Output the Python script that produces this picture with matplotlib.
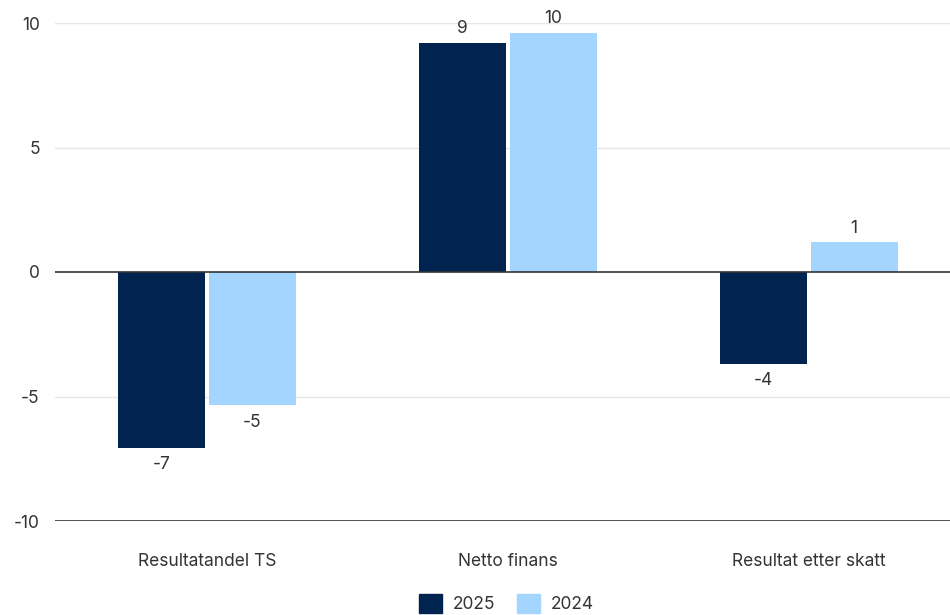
import numpy as np
import matplotlib.pyplot as plt
from matplotlib.patches import Patch

plt.rcParams['font.family'] = ['Inter', 'DejaVu Sans']

categories = ["Resultatandel TS", "Netto finans", "Resultat etter skatt"]
series_names = ["2025", "2024"]
values_2025 = [-7.05, 9.2, -3.7]
values_2024 = [-5.35, 9.6, 1.2]
labels_2025 = ["-7", "9", "-4"]
labels_2024 = ["-5", "10", "1"]

colors = ["#00234F", "#A3D5FF"]
text_color = "#333333"
fs = 12.5

fig = plt.figure(figsize=(9.5, 6.15), dpi=100)
ax = fig.add_axes([55 / 950, 1 - 521 / 615, 1 - 55 / 950, (521 - 23) / 615])

x = np.arange(len(categories))
w = 0.289
off = 0.151

for vals, labs, color, sign in [(values_2025, labels_2025, colors[0], -1),
                                (values_2024, labels_2024, colors[1], 1)]:
    bars = ax.bar(x + sign * off, vals, width=w, color=color, zorder=3)
    for b, v, lab in zip(bars, vals, labs):
        cx = b.get_x() + b.get_width() / 2
        if v >= 0:
            ax.annotate(lab, (cx, v), xytext=(0, 4), textcoords="offset points",
                        ha="center", va="bottom", fontsize=fs, color=text_color)
        else:
            ax.annotate(lab, (cx, v), xytext=(0, -6), textcoords="offset points",
                        ha="center", va="top", fontsize=fs, color=text_color)

ax.set_xlim(-0.505, 2.47)
ax.set_ylim(-10, 10)

for y in [10, 5, -5]:
    ax.axhline(y, color="#e6e6e6", lw=1, zorder=1)
ax.axhline(0, color="#333333", lw=1.2, zorder=4)
ax.axhline(-10, color="#333333", lw=1.2, zorder=4)

for s in ax.spines.values():
    s.set_visible(False)

ax.set_yticks([-10, -5, 0, 5, 10])
ax.set_yticklabels(["-10", "-5", "0", "5", "10"])
ax.tick_params(axis="y", length=0, pad=11, labelsize=fs, labelcolor=text_color)
ax.set_xticks(x)
ax.set_xticklabels(categories)
ax.tick_params(axis="x", length=0, pad=23, labelsize=fs, labelcolor=text_color)

handles = [Patch(color=c, label=n) for c, n in zip(colors, series_names)]
fig.legend(handles=handles, loc="lower center", bbox_to_anchor=(0.533, -0.022),
           ncol=2, frameon=False, fontsize=fs, handlelength=1.3, handleheight=1.3,
           handletextpad=0.6, columnspacing=1.3, labelcolor=text_color)

fig.savefig("out.png", dpi=100)
